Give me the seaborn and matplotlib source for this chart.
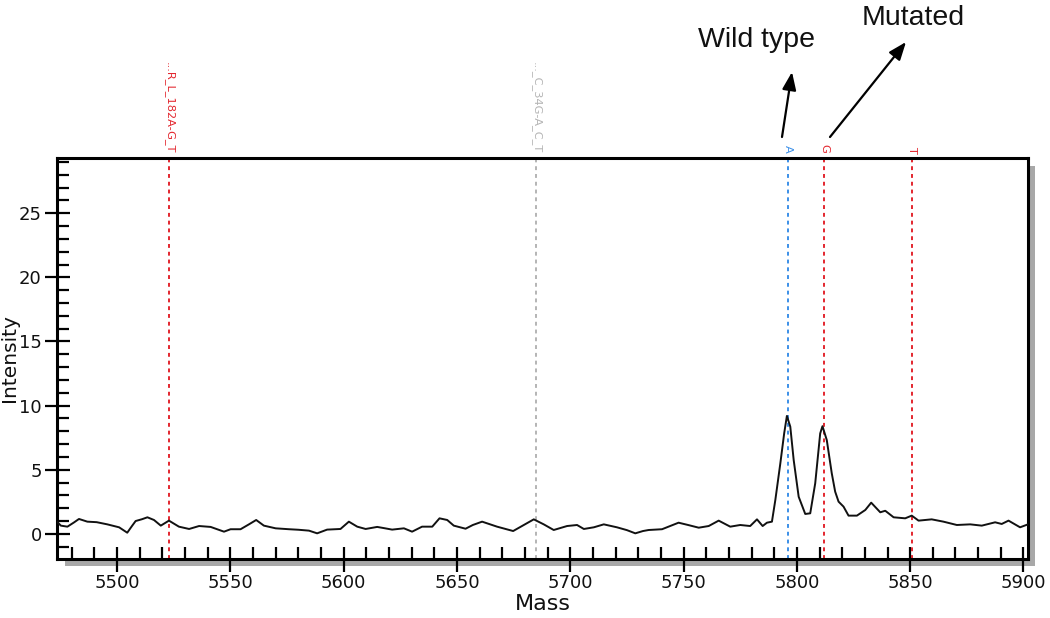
import numpy as np
import pandas as pd
import matplotlib
matplotlib.use("Agg")
import matplotlib.pyplot as plt
import seaborn as sns
from matplotlib.patches import Rectangle
from matplotlib.ticker import MultipleLocator

# --------------------------------------------------------------
# Veri
# --------------------------------------------------------------
mass = [5473.5, 5475.2, 5478.1, 5481.0, 5483.2, 5486.9, 5491.0, 5495.7, 5500.9, 5504.5,
        5506.5, 5508.2, 5511.0, 5513.4, 5516.3, 5519.3, 5522.9, 5527.3, 5531.8, 5536.2,
        5541.3, 5547.2, 5550.1, 5554.5, 5558.2, 5561.4, 5564.8, 5570.0, 5575.9, 5580.0,
        5584.7, 5588.3, 5592.7, 5598.6, 5602.3, 5606.0, 5609.7, 5614.8, 5618.0, 5621.4,
        5626.6, 5630.2, 5634.6, 5639.1, 5642.3, 5645.7, 5648.6, 5653.8, 5657.0, 5661.1,
        5667.7, 5674.8, 5679.5, 5683.9, 5688.3, 5692.7, 5698.6, 5703.0, 5706.0, 5710.4,
        5714.8, 5720.6, 5725.0, 5728.7, 5732.1, 5734.6, 5740.5, 5747.8, 5752.0, 5756.7,
        5761.1, 5765.5, 5770.6, 5775.0, 5779.4, 5782.4, 5784.9, 5786.8, 5789.0, 5790.5,
        5792.7, 5794.4, 5795.6, 5797.1, 5798.6, 5800.8, 5803.7, 5805.9, 5808.1, 5810.3,
        5811.3, 5813.2, 5815.4, 5816.9, 5818.4, 5820.6, 5822.8, 5826.5, 5830.2, 5832.8,
        5836.8, 5839.0, 5842.7, 5847.8, 5850.7, 5853.7, 5859.5, 5864.7, 5870.6, 5876.5,
        5881.6, 5887.5, 5890.4, 5893.4, 5898.5, 5902.0]
intensity = [0.96, 0.65, 0.57, 0.90, 1.17, 0.96, 0.92, 0.75, 0.52, 0.10,
             0.60, 1.01, 1.15, 1.30, 1.09, 0.65, 1.04, 0.57, 0.39, 0.62,
             0.55, 0.18, 0.37, 0.37, 0.75, 1.09, 0.65, 0.44, 0.37, 0.33,
             0.26, 0.05, 0.34, 0.39, 0.96, 0.57, 0.39, 0.55, 0.45, 0.34,
             0.44, 0.18, 0.57, 0.57, 1.22, 1.09, 0.65, 0.41, 0.70, 0.96,
             0.57, 0.23, 0.70, 1.14, 0.75, 0.31, 0.62, 0.70, 0.39, 0.52,
             0.75, 0.52, 0.30, 0.05, 0.23, 0.31, 0.37, 0.88, 0.70, 0.49,
             0.62, 1.04, 0.57, 0.70, 0.62, 1.14, 0.62, 0.88, 0.96, 2.65,
             5.50, 7.84, 9.20, 8.36, 5.76, 2.90, 1.56, 1.61, 3.95, 7.84,
             8.40, 7.32, 4.73, 3.30, 2.52, 2.13, 1.43, 1.43, 1.87, 2.44,
             1.69, 1.81, 1.30, 1.22, 1.43, 1.04, 1.14, 0.96, 0.70, 0.75,
             0.65, 0.91, 0.78, 1.04, 0.52, 0.75]

# Isaret cizgileri
marker_mass   = [5523, 5685, 5796, 5812, 5851]
marker_labels = ["...R_L_182A-G_T", "..._C_34G-A_C_T", "A", "G", "T"]
marker_colors = ["#e3262e", "#b4b4b4", "#3b8fe8", "#e3262e", "#e3262e"]

df = pd.DataFrame({"Mass": mass, "Intensity": intensity})

# --------------------------------------------------------------
# Grafik
# --------------------------------------------------------------
sns.set_theme(style="white")
plt.rcParams["font.family"] = ["DejaVu Sans"]

W, H = 1050, 618
fig = plt.figure(figsize=(W / 100, H / 100), dpi=100)
ax = fig.add_axes([57 / W, 1 - 559 / H, (1028 - 57) / W, (559 - 158) / H])
ax.set_facecolor("white")

# gri golge
shadow = Rectangle((65 / W, 1 - 566 / H), (1035 - 65) / W, (566 - 166) / H,
                   transform=fig.transFigure, facecolor="#a8a8a8", edgecolor="none", zorder=-5)
fig.patches.append(shadow)

for m, lab, c in zip(marker_mass, marker_labels, marker_colors):
    ax.axvline(m, color=c, lw=1.4, ls=(0, (2, 2)), zorder=1)
    ax.text(m, 1.012, lab, transform=ax.get_xaxis_transform(), rotation=270,
            ha="center", va="bottom", fontsize=8.2, color=c, clip_on=False)

sns.lineplot(data=df, x="Mass", y="Intensity", ax=ax, color="#111111", lw=1.4,
             estimator=None, sort=False, zorder=3)

ax.set_xlim(5473.5, 5902)
ax.set_ylim(-1.95, 29.3)

ax.xaxis.set_major_locator(MultipleLocator(50))
ax.xaxis.set_minor_locator(MultipleLocator(10))
ax.yaxis.set_major_locator(MultipleLocator(5))
ax.yaxis.set_minor_locator(MultipleLocator(1))

ax.tick_params(axis="both", which="major", direction="inout", length=18, width=1.6,
               labelsize=13, color="black", labelcolor="#111111", pad=2,
               bottom=True, left=True, top=False, right=False)
ax.tick_params(axis="both", which="minor", direction="in", length=8.5, width=1.6,
               color="black", bottom=True, left=True, top=False, right=False)

for sp in ax.spines.values():
    sp.set_visible(True)
    sp.set_color("black")
    sp.set_linewidth(2.2)

ax.set_xlabel("Mass", fontsize=16, color="#111111", labelpad=1)
ax.set_ylabel("Intensity", fontsize=14.5, color="#111111", va="center")
ax.yaxis.set_label_coords((10 - 57) / (1028 - 57), 0.5)

# Oklar ve yazilar
arrow = dict(arrowstyle="-|>,head_length=0.9,head_width=0.35", color="black", lw=1.6,
             shrinkA=0, shrinkB=0)
ax.annotate("", xy=(792 / W, 1 - 72 / H), xytext=(782 / W, 1 - 137 / H),
            xycoords="figure fraction", textcoords="figure fraction", arrowprops=arrow)
ax.annotate("", xy=(906 / W, 1 - 42 / H), xytext=(830 / W, 1 - 137 / H),
            xycoords="figure fraction", textcoords="figure fraction", arrowprops=arrow)
fig.text(757 / W, 1 - 40 / H, "Wild type", fontsize=20.5, ha="center", va="center",
         family=["Liberation Sans", "DejaVu Sans"], color="#111111")
fig.text(913 / W, 1 - 18 / H, "Mutated", fontsize=20.5, ha="center", va="center",
         family=["Liberation Sans", "DejaVu Sans"], color="#111111")

fig.savefig("out.png", dpi=100, facecolor="white")
plt.close(fig)
